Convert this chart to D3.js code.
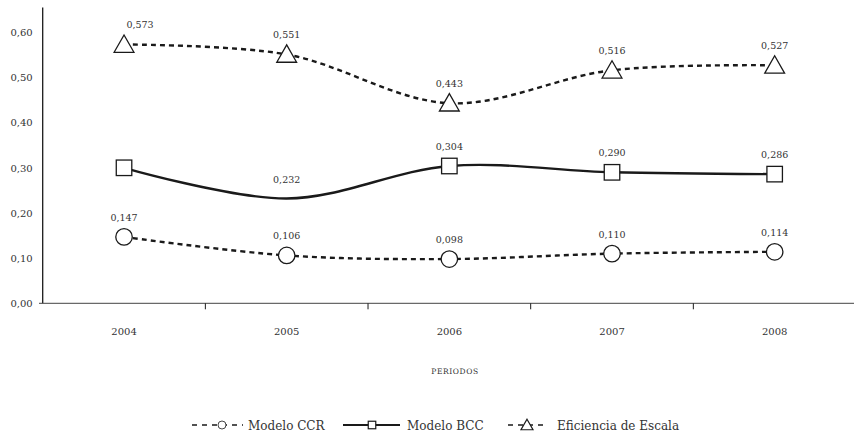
<!DOCTYPE html>
<html>
<head>
<meta charset="utf-8">
<script src="https://cdn.jsdelivr.net/npm/d3@7"></script>
<style>
  html, body { margin: 0; padding: 0; background: #fff; }
  svg { display: block; }
</style>
</head>
<body>
<div id="chart"></div>
<script>
const years = ["2004", "2005", "2006", "2007", "2008"];
const ccrValues = [0.147, 0.106, 0.098, 0.110, 0.114];
const bccValues = [0.300, 0.232, 0.304, 0.290, 0.286];
const escalaValues = [0.573, 0.551, 0.443, 0.516, 0.527];
const yTicks = [0, 0.1, 0.2, 0.3, 0.4, 0.5, 0.6];
const seriesNames = ["Modelo CCR", "Modelo BCC", "Eficiencia de Escala"];

(function () {
  const W = 854, H = 436;
  const INK = "#1a1a1a";
  const TXT = "#333";
  const FONT = "DejaVu Serif";

  const svg = d3.select("#chart").append("svg")
    .attr("width", W).attr("height", H)
    .attr("font-family", FONT);

  const x = d3.scaleBand().domain(years).range([42.7, 856]).paddingInner(0).paddingOuter(0);
  const y = d3.scaleLinear().domain([0, 0.6]).range([303.3, 32.3]);
  const cx = d => x(d) + x.bandwidth() / 2;
  const fmt = v => d3.format(".2f")(v).replace(".", ",");
  const fmt3 = v => d3.format(".3f")(v).replace(".", ",");

  // y axis
  const yAxis = svg.append("g")
    .attr("transform", "translate(42.7,0)")
    .call(d3.axisLeft(y).tickValues(yTicks).tickSize(0).tickPadding(10).tickFormat(fmt));
  yAxis.attr("font-family", FONT).attr("font-size", 10);
  yAxis.select(".domain").remove();
  yAxis.selectAll("text").attr("fill", TXT);

  svg.append("line")
    .attr("x1", 42.7).attr("x2", 42.7)
    .attr("y1", y(0)).attr("y2", y(0.655))
    .attr("stroke", INK).attr("stroke-width", 1.3);

  // x axis
  svg.append("line")
    .attr("x1", 39).attr("x2", W)
    .attr("y1", y(0)).attr("y2", y(0))
    .attr("stroke", "#444").attr("stroke-width", 1);

  svg.selectAll(".xtick").data(years.slice(1)).enter().append("line")
    .attr("x1", d => x(d)).attr("x2", d => x(d))
    .attr("y1", y(0)).attr("y2", y(0) + 6)
    .attr("stroke", INK).attr("stroke-width", 1);

  const xAxis = svg.append("g")
    .attr("transform", `translate(0,${y(0)})`)
    .call(d3.axisBottom(x).tickSize(0).tickPadding(25));
  xAxis.attr("font-family", FONT).attr("font-size", 10);
  xAxis.select(".domain").remove();
  xAxis.selectAll("text").attr("fill", TXT);

  svg.append("text")
    .attr("x", 455).attr("y", 374)
    .attr("text-anchor", "middle")
    .attr("fill", TXT)
    .attr("font-size", 7.5)
    .attr("letter-spacing", 0.6)
    .text("PERIODOS");

  const line = d3.line()
    .x((d, i) => cx(years[i]))
    .y(d => y(d))
    .curve(d3.curveCatmullRom);

  const series = [
    { name: seriesNames[0], values: ccrValues, dash: "5,4", marker: "circle" },
    { name: seriesNames[1], values: bccValues, dash: null, marker: "square" },
    { name: seriesNames[2], values: escalaValues, dash: "5,4", marker: "triangle" }
  ];

  function marker(g, type, px, py, s, sw) {
    if (type === "circle") {
      g.append("circle").attr("cx", px).attr("cy", py).attr("r", s * 0.5)
        .attr("fill", "#fff").attr("stroke", INK).attr("stroke-width", sw);
    } else if (type === "square") {
      g.append("rect").attr("x", px - s * 0.47).attr("y", py - s * 0.47)
        .attr("width", s * 0.94).attr("height", s * 0.94)
        .attr("fill", "#fff").attr("stroke", INK).attr("stroke-width", sw);
    } else {
      const w = s * 1.2, h = s * 1.05;
      g.append("path")
        .attr("d", `M${px},${py - h * 0.55}L${px + w / 2},${py + h * 0.45}L${px - w / 2},${py + h * 0.45}Z`)
        .attr("fill", "#fff").attr("stroke", INK).attr("stroke-width", sw);
    }
  }

  series.forEach(s => {
    svg.append("path")
      .attr("d", line(s.values))
      .attr("fill", "none")
      .attr("stroke", INK)
      .attr("stroke-width", 2.4)
      .attr("stroke-dasharray", s.dash);

    const g = svg.append("g");
    s.values.forEach((v, i) => {
      // BCC 2005 has no marker, BCC 2004 has no label in the original
      const isBcc = s.marker === "square";
      if (!(isBcc && i === 1)) marker(g, s.marker, cx(years[i]), y(v), 16.5, 1.3);
      if (!(isBcc && i === 0)) {
        const shift = (s.marker === "triangle" && i === 0) ? 16 : 0;
        g.append("text")
          .attr("x", cx(years[i]) + shift)
          .attr("y", y(v) - 16)
          .attr("text-anchor", "middle")
          .attr("fill", TXT)
          .attr("font-size", 9.5)
          .text(fmt3(v));
      }
    });
  });

  // legend
  const legY = 425;
  const legend = [
    { x0: 192, x1: 243, mx: 222, tx: 248 },
    { x0: 343, x1: 400, mx: 372, tx: 407 },
    { x0: 508, x1: 547, mx: 527, tx: 557 }
  ];
  series.forEach((s, i) => {
    const L = legend[i];
    const g = svg.append("g");
    g.append("line")
      .attr("x1", L.x0).attr("x2", L.x1)
      .attr("y1", legY).attr("y2", legY)
      .attr("stroke", INK)
      .attr("stroke-width", s.dash ? 1.5 : 2)
      .attr("stroke-dasharray", s.dash ? "5,5" : null);
    marker(g, s.marker, L.mx, legY, s.marker === "triangle" ? 10 : 8, s.marker === "circle" ? 0.8 : 1.2);
    g.append("text")
      .attr("x", L.tx).attr("y", legY + 5)
      .attr("fill", TXT)
      .attr("font-size", 12)
      .text(s.name);
  });
})();
</script>
</body>
</html>
